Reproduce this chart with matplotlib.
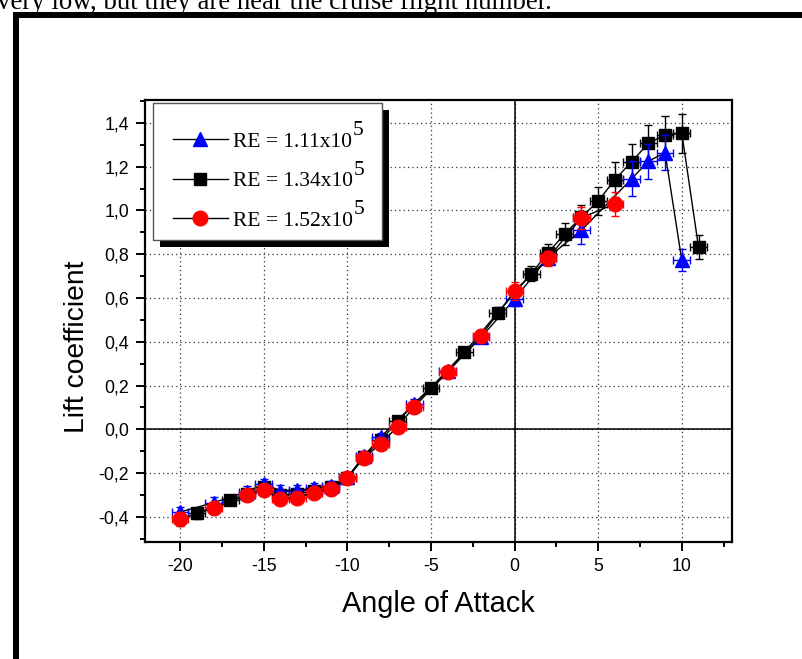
import numpy as np
import matplotlib
matplotlib.use("Agg")
import matplotlib.pyplot as plt
from matplotlib.ticker import MultipleLocator, FuncFormatter
from matplotlib.patches import Rectangle

# lift coefficient vs angle of attack, three Reynolds numbers
aoa_111 = [-20, -18, -16, -15, -14, -13, -12, -11, -10, -9, -8, -6, -4, -2, 0, 2, 4, 7, 8, 9, 10]
cl_111 = [-0.378, -0.335, -0.285, -0.25, -0.28, -0.278, -0.27, -0.26, -0.22, -0.12, -0.035,
          0.118, 0.266, 0.42, 0.595, 0.785, 0.91, 1.145, 1.225, 1.264, 0.772]
err_111 = [0.025, 0.025, 0.025, 0.025, 0.025, 0.025, 0.025, 0.025, 0.02, 0.02, 0.02,
           0.02, 0.02, 0.025, 0.03, 0.03, 0.065, 0.08, 0.08, 0.08, 0.05]

aoa_134 = [-19, -17, -16, -15, -14, -13, -12, -11, -10, -9, -8, -7, -5, -3, -1,
           1, 2, 3, 4, 5, 6, 7, 8, 9, 10, 11]
cl_134 = [-0.384, -0.322, -0.295, -0.265, -0.3, -0.295, -0.28, -0.265, -0.222, -0.125, -0.05,
          0.037, 0.19, 0.352, 0.533, 0.712, 0.807, 0.893, 0.97, 1.043, 1.141, 1.223, 1.307,
          1.345, 1.353, 0.832]
err_134 = [0.025, 0.02, 0.02, 0.02, 0.02, 0.02, 0.02, 0.02, 0.02, 0.02, 0.02, 0.02, 0.02,
           0.02, 0.025, 0.035, 0.04, 0.05, 0.055, 0.065, 0.08, 0.08, 0.085, 0.085, 0.09, 0.055]

aoa_152 = [-20, -18, -16, -15, -14, -13, -12, -11, -10, -9, -8, -7, -6, -4, -2, 0, 2, 4, 6]
cl_152 = [-0.41, -0.36, -0.302, -0.276, -0.318, -0.312, -0.29, -0.273, -0.222, -0.13, -0.065,
          0.012, 0.103, 0.262, 0.428, 0.632, 0.782, 0.967, 1.03]
err_152 = [0.03, 0.025, 0.025, 0.025, 0.025, 0.025, 0.025, 0.025, 0.025, 0.025, 0.025,
           0.025, 0.025, 0.025, 0.025, 0.04, 0.035, 0.05, 0.055]

aoa_err = 0.5
labels = ['RE = 1.11x10', 'RE = 1.34x10', 'RE = 1.52x10']
sup = '5'

fig = plt.figure(figsize=(8.02, 6.59), dpi=100)
ax = fig.add_axes([0.1808, 0.1775, 0.7319, 0.6708])

# page bits around the figure
fig.text(-0.004, 0.9865, 'very low, but they are near the cruise flight number.',
         family='Liberation Serif', fontsize=19.4, va='baseline')
fig.add_artist(Rectangle((13 / 802, 0), 6 / 802, 1 - 12 / 659, color='black', lw=0))
fig.add_artist(Rectangle((13 / 802, 1 - 18 / 659), 1, 6 / 659, color='black', lw=0))

common = dict(xerr=aoa_err, color='black', lw=1, elinewidth=1, capsize=3.2, capthick=1)
e2 = ax.errorbar(aoa_134, cl_134, yerr=err_134, marker='s', ms=9.3, mfc='black', mec='black',
                 ecolor='black', zorder=3, **common)
e1 = ax.errorbar(aoa_111, cl_111, yerr=err_111, marker='^', ms=10.5, mfc='blue', mec='blue',
                 ecolor='blue', zorder=4, **common)
e3 = ax.errorbar(aoa_152, cl_152, yerr=err_152, marker='o', ms=10.5, mfc='red', mec='red',
                 ecolor='red', zorder=5, **common)

ax.set_xlim(-22.1, 13.0)
ax.set_ylim(-0.515, 1.505)
ax.xaxis.set_major_locator(MultipleLocator(5))
ax.xaxis.set_minor_locator(MultipleLocator(2.5))
ax.yaxis.set_minor_locator(MultipleLocator(0.1))
ax.set_yticks(np.arange(-0.4, 1.41, 0.2))
ax.xaxis.set_major_formatter(FuncFormatter(lambda v, p: '%d' % round(v)))
ax.yaxis.set_major_formatter(FuncFormatter(lambda v, p: ('%.1f' % v).replace('.', ',').replace('-0,0', '0,0')))

ax.grid(True, which='major', ls=(0, (1, 2.5)), color='#333333', lw=0.9, zorder=0)
ax.axhline(0, color='black', lw=1.1, zorder=1)
ax.axvline(0, color='black', lw=1.1, zorder=1)
ax.set_axisbelow(True)

for s in ax.spines.values():
    s.set_linewidth(1.6)
ax.tick_params(which='major', direction='out', length=6.5, width=1.4, labelsize=12.8, pad=5)
ax.tick_params(which='minor', direction='out', length=3.8, width=1.4)
for t in ax.get_xticklabels() + ax.get_yticklabels():
    t.set_family('Liberation Sans')

ax.set_xlabel('Angle of Attack', family='Liberation Sans', fontsize=20.8, labelpad=11)
ax.set_ylabel('Lift coefficient', family='Liberation Sans', fontsize=20.3)
ax.yaxis.set_label_coords(-0.093, 0.441)

# legend box with a hard black shadow, drawn by hand
box = (0.0136, 0.683, 0.3905, 0.31)
ax.add_patch(Rectangle(box[:2], box[2], box[3], transform=ax.transAxes, fc='white',
                       ec='#555555', lw=1.0, zorder=9.5, clip_on=False))
shadow = Rectangle(box[:2], box[2], box[3], transform=ax.transAxes, fc='black', lw=0,
                   zorder=9, clip_on=False)
ax.add_patch(shadow)

leg = ax.legend([e1.lines[0], e2.lines[0], e3.lines[0]], labels,
                loc='upper left', bbox_to_anchor=(0.0477, 0.928), frameon=False,
                borderaxespad=0, borderpad=0, numpoints=1,
                prop={'family': 'Liberation Serif', 'size': 15.5}, handlelength=2.55,
                handletextpad=0.25, labelspacing=0.9)
leg.set_zorder(10)

fig.canvas.draw()
renderer = fig.canvas.get_renderer()
shadow.set_x(box[0] + 7 / ax.bbox.width)
shadow.set_y(box[1] - 7 / ax.bbox.height)

# full size raised exponent after each legend label
for t in leg.get_texts():
    tb = t.get_window_extent(renderer)
    fp = t.get_fontproperties()
    w, h, d = renderer.get_text_width_height_descent(t.get_text(), fp, ismath=False)
    _, _, dlp = renderer.get_text_width_height_descent('lp', fp, ismath=False)
    fig.text((tb.x0 + w) / fig.bbox.width, (tb.y0 + dlp + 11.5) / fig.bbox.height, sup,
             family='Liberation Serif', fontsize=15.5, va='baseline', zorder=20)

fig.savefig('out.png', dpi=100)
